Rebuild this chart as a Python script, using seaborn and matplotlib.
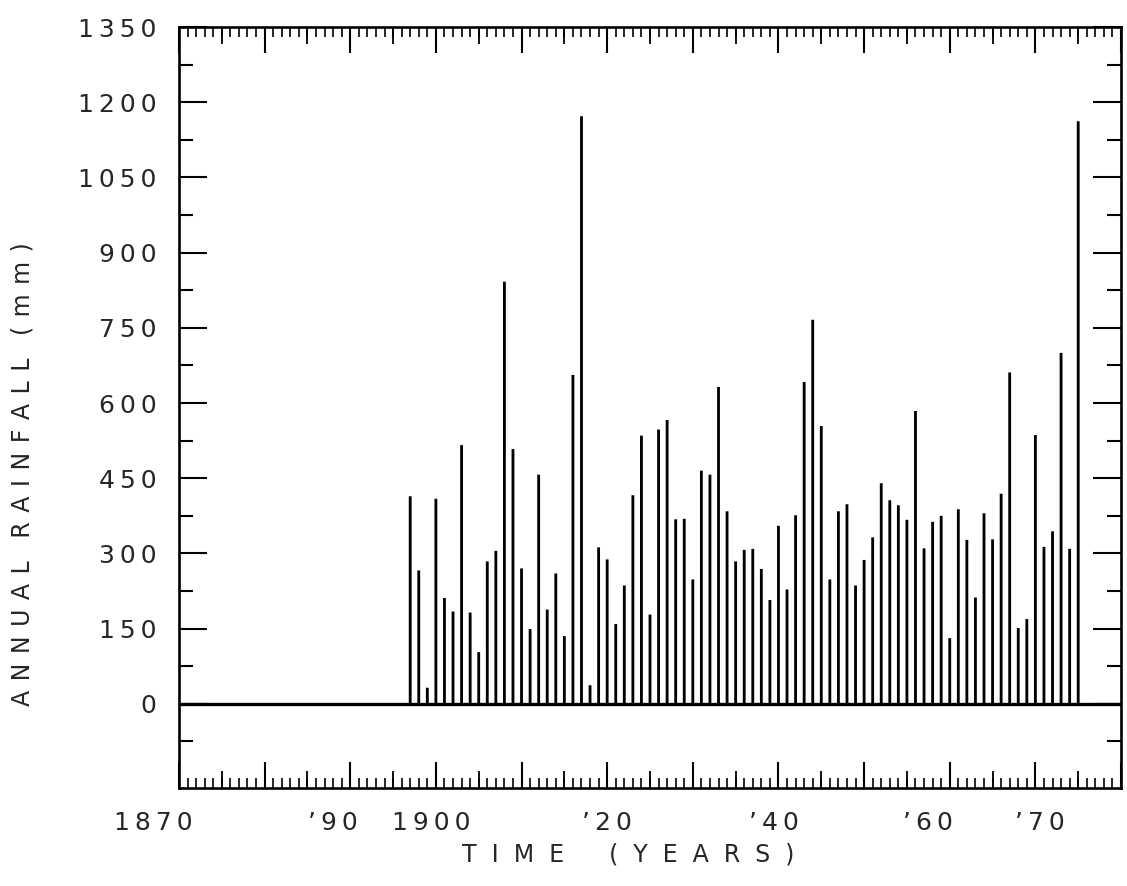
import matplotlib
matplotlib.use("Agg")
import matplotlib.pyplot as plt
import seaborn as sns
import pandas as pd
from matplotlib.ticker import FixedLocator, MultipleLocator

# annual rainfall (mm), one stem per year
years = list(range(1897, 1976))
rainfall = [
    414, 266, 32, 409, 211, 184, 516, 182, 103, 284,    # 1897-1906
    305, 842, 508, 270, 149, 457, 188, 260, 135, 656,   # 1907-1916
    1172, 37, 312, 288, 159, 236, 416, 535, 178, 547,   # 1917-1926
    566, 368, 369, 248, 465, 457, 632, 384, 284, 307,   # 1927-1936
    309, 269, 207, 355, 228, 376, 642, 766, 554, 248,   # 1937-1946
    384, 398, 236, 287, 332, 440, 406, 396, 367, 584,   # 1947-1956
    310, 363, 375, 131, 388, 327, 212, 380, 328, 419,   # 1957-1966
    661, 151, 169, 536, 313, 344, 700, 309, 1162,       # 1967-1975
]

ytick_vals = [0, 150, 300, 450, 600, 750, 900, 1050, 1200, 1350]
yminor_vals = [-75, 75, 225, 375, 525, 675, 825, 975, 1125, 1275]
# the hand lettered year labels sit a little off their ticks
xlabel_pos = [1867, 1888, 1899.5, 1920, 1939.5, 1957.5, 1970.5]
xlabel_text = ["1870", "\u201990", "1900", "\u201920", "\u201940", "\u201960", "\u201970"]

df = pd.DataFrame({"year": years, "rain": rainfall})

sns.set_style("white")
plt.rcParams["font.family"] = ["DejaVu Sans"]

thin = "\u2009"


def spread(text, gap=thin, wordgap="   "):
    return wordgap.join(gap.join(w) for w in text.split(" "))


fig = plt.figure(figsize=(11.27, 8.86), dpi=100)
ax = fig.add_axes([0.1588, 0.1106, 0.8359, 0.8589])

sns.barplot(data=df, x="year", y="rain", native_scale=True, width=0.33,
            color="black", saturation=1, errorbar=None, linewidth=0, ax=ax)
for p in ax.patches:
    p.set_snap(False)
ax.axhline(0, color="black", lw=2.4, zorder=3)

ax.set_xlim(1870, 1980)
ax.set_ylim(-168, 1350)
ax.set_xlabel("")
ax.set_ylabel("")

for s in ax.spines.values():
    s.set_color("black")
    s.set_linewidth(1.9)

# x ticks: long every decade, short every year, medium every 5 years
ax.xaxis.set_major_locator(MultipleLocator(10))
ax.xaxis.set_minor_locator(MultipleLocator(1))
ax.tick_params(axis="x", which="major", direction="in", length=19, width=1.5,
               top=True, bottom=True, labelbottom=False, color="black")
ax.tick_params(axis="x", which="minor", direction="in", length=7, width=1.2,
               top=True, bottom=True, color="black")
for loc in ["bottom", "top"]:
    sec = ax.secondary_xaxis(loc)
    sec.set_xticks(list(range(1875, 1980, 10)))
    sec.tick_params(direction="in", length=12, width=1.3, color="black",
                    labelbottom=False, labeltop=False)
    sec.spines[loc].set_visible(False)

# y ticks on both sides
ax.yaxis.set_major_locator(FixedLocator(ytick_vals))
ax.yaxis.set_minor_locator(FixedLocator(yminor_vals))
ax.set_yticks(ytick_vals, labels=[thin.join(str(v)) for v in ytick_vals])
ax.tick_params(axis="y", which="major", direction="in", length=20, width=1.5,
               left=True, right=True, pad=16, labelsize=18, color="black")
ax.tick_params(axis="y", which="minor", direction="in", length=10, width=1.5,
               left=True, right=True, color="black")

for pos, txt in zip(xlabel_pos, xlabel_text):
    ax.text(pos, -0.03, thin.join(txt), transform=ax.get_xaxis_transform(),
            ha="center", va="top", fontsize=18, clip_on=False)

fig.text(0.557, 0.035, spread("TIME (YEARS)", gap="  ", wordgap="      "),
         ha="center", va="center", fontsize=17)
fig.text(0.02, 0.465, spread("ANNUAL RAINFALL (mm)", gap=thin + thin, wordgap="   "),
         ha="center", va="center", rotation=90, fontsize=17)

fig.savefig("out.png", dpi=100)
